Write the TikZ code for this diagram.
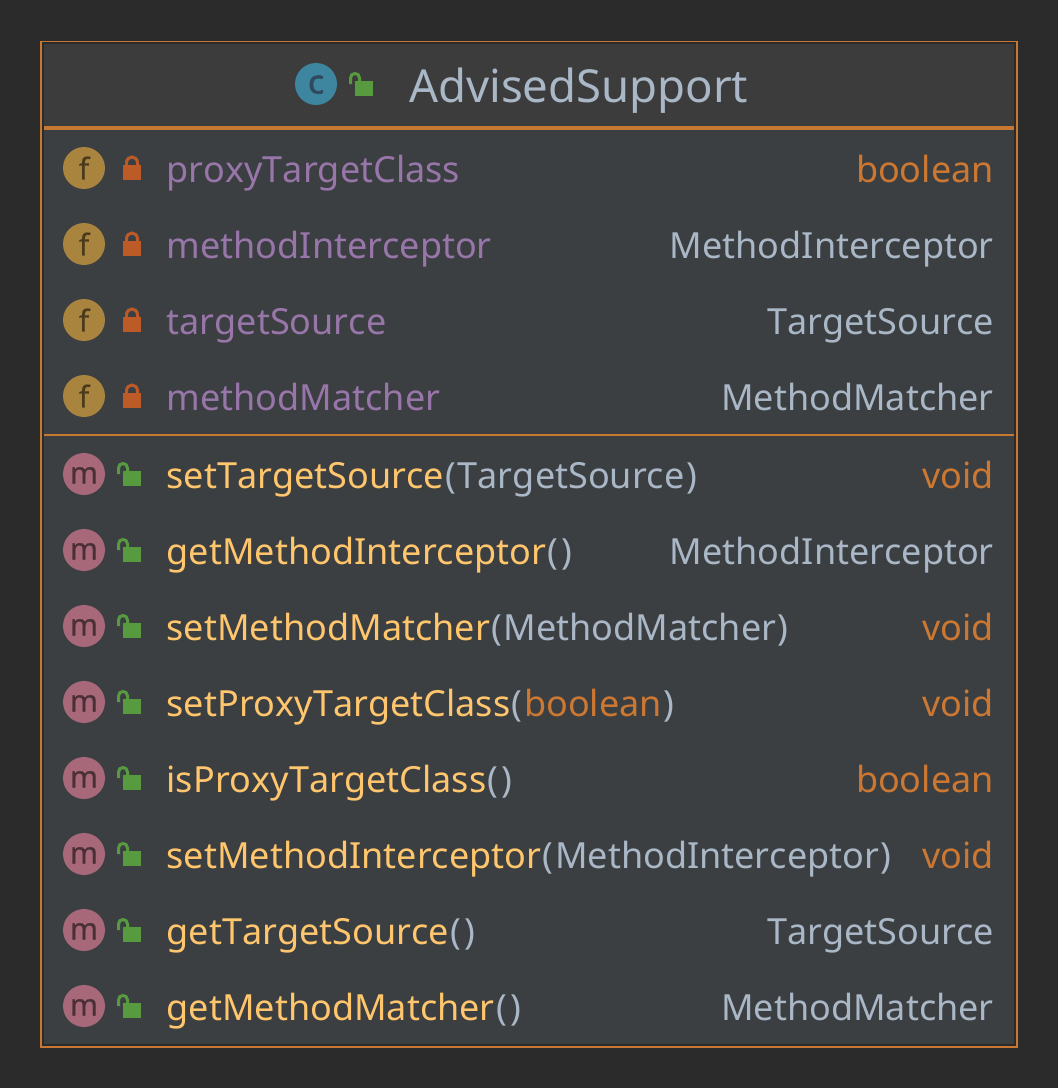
\documentclass[tikz,border=0pt]{standalone}
\usepackage{fontspec}
\setmainfont[Kerning=Off]{Noto Sans}
\newfontfamily\iconfont[FakeBold=0.6]{Noto Sans}
\newfontfamily\classfont[FakeBold=2]{Noto Sans}
\definecolor{pagebg}{HTML}{2B2B2B}
\definecolor{headbg}{HTML}{3C3C3C}
\definecolor{bodybg}{HTML}{3C3F41}
\definecolor{edgeorange}{HTML}{C77832}
\definecolor{typegray}{HTML}{A9B7C6}
\definecolor{fieldpurple}{HTML}{9876AA}
\definecolor{keyorange}{HTML}{CC7832}
\definecolor{methodyellow}{HTML}{FFC66D}
\definecolor{iconf}{HTML}{A8843F}
\definecolor{iconm}{HTML}{A7687A}
\definecolor{iconc}{HTML}{3E86A0}
\definecolor{classink}{HTML}{2F4A5C}
\definecolor{lockred}{HTML}{BD5B28}
\definecolor{lockgreen}{HTML}{589A40}
\tikzset{
    closedlock/.pic={
        \draw [lockred, line width=3pt] (-5.5,-3) -- (-5.5,-5) .. controls (-5.5,-13) and (5.5,-13) .. (5.5,-5) -- (5.5,-3);
        \fill [lockred] (-9,-3) rectangle (9,12);
    },
    openlock/.pic={
        \draw [lockgreen, line width=3pt] (-13.5,0) -- (-13.5,-6) .. controls (-13.5,-12) and (-4.5,-12) .. (-4.5,-6) -- (-4.5,-3);
        \fill [lockgreen] (-9,-3) rectangle (9,12);
    },
    icon/.style={circle, minimum size=42pt, inner sep=0pt, font=\fontsize{30}{30}\iconfont},
    fieldicon/.style={icon, fill=iconf, text=iconf!45!black},
    methodicon/.style={icon, fill=iconm, text=iconm!45!black, text height=19pt, text depth=0pt},
    classicon/.style={icon, fill=iconc, text=classink, text height=19pt, text depth=0pt, font=\fontsize{33}{33}\classfont},
    rowtext/.style={inner sep=0pt, font=\fontsize{36}{36}\selectfont},
    fieldname/.style={rowtext, anchor=base west, text=fieldpurple},
    methodname/.style={rowtext, anchor=base west, text=methodyellow},
    typename/.style={rowtext, anchor=base east, text=typegray},
    keyname/.style={rowtext, anchor=base east, text=keyorange},
}
\newcommand{\pargs}[1]{\textcolor{typegray}{\kern1.5pt(\kern1.5pt#1\kern1.5pt)\kern1pt}}
\newcommand{\pkey}[1]{\textcolor{keyorange}{#1}}
\begin{document}
\begin{tikzpicture}[x=1pt, y=-1pt]
            \useasboundingbox (0,0) rectangle (1058,1088);
            \fill [pagebg] (0,0) rectangle (1058,1088);
            \draw [edgeorange, line width=1.6pt] (41,41.5) rectangle (1017,1047);
            \fill [bodybg] (44,44) rectangle (1014,1044);
            \fill [headbg] (44,44) rectangle (1014,126);
            \fill [edgeorange] (44,126) rectangle (1014,130);
            \fill [edgeorange] (44,434) rectangle (1014,436);
            % header
            \node [classicon] (classC) at (316,84) {c};
            \pic (classLock) at (364,84) {openlock};
            \node [rowtext, anchor=base west, text=typegray, font=\fontsize{45.5}{45.5}\selectfont] (title) at (409,102) {AdvisedSupport};
            % fields
            \node [fieldicon] (f1) at (84,168) {f};
            \node [fieldicon] (f2) at (84,244) {f};
            \node [fieldicon] (f3) at (84,320) {f};
            \node [fieldicon] (f4) at (84,396) {f};
            \pic (fl1) at (132,168) {closedlock};
            \pic (fl2) at (132,244) {closedlock};
            \pic (fl3) at (132,320) {closedlock};
            \pic (fl4) at (132,396) {closedlock};
            \node [fieldname] (fn1) at (166.5,182.7) {proxyTargetClass};
            \node [fieldname] (fn2) at (166.5,258.7) {methodInterceptor};
            \node [fieldname] (fn3) at (166.5,334.7) {targetSource};
            \node [fieldname] (fn4) at (166.5,410.7) {methodMatcher};
            \node [keyname] (ft1) at (994,182.7) {boolean};
            \node [typename] (ft2) at (994,258.7) {MethodInterceptor};
            \node [typename] (ft3) at (994,334.7) {TargetSource};
            \node [typename] (ft4) at (994,410.7) {MethodMatcher};
            % methods
            \node [methodicon] (m1) at (84,474) {m};
            \node [methodicon] (m2) at (84,550) {m};
            \node [methodicon] (m3) at (84,626) {m};
            \node [methodicon] (m4) at (84,702) {m};
            \node [methodicon] (m5) at (84,778) {m};
            \node [methodicon] (m6) at (84,854) {m};
            \node [methodicon] (m7) at (84,930) {m};
            \node [methodicon] (m8) at (84,1006) {m};
            \pic (ml1) at (132,474) {openlock};
            \pic (ml2) at (132,550) {openlock};
            \pic (ml3) at (132,626) {openlock};
            \pic (ml4) at (132,702) {openlock};
            \pic (ml5) at (132,778) {openlock};
            \pic (ml6) at (132,854) {openlock};
            \pic (ml7) at (132,930) {openlock};
            \pic (ml8) at (132,1006) {openlock};
            \node [methodname] (mn1) at (166.5,488.7) {setTargetSource\pargs{TargetSource}};
            \node [methodname] (mn2) at (166.5,564.7) {getMethodInterceptor\pargs{}};
            \node [methodname] (mn3) at (166.5,640.7) {setMethodMatcher\pargs{MethodMatcher}};
            \node [methodname] (mn4) at (166.5,716.7) {setProxyTargetClass\pargs{\pkey{boolean}}};
            \node [methodname] (mn5) at (166.5,792.7) {isProxyTargetClass\pargs{}};
            \node [methodname] (mn6) at (166.5,868.7) {setMethodInterceptor\pargs{MethodInterceptor}};
            \node [methodname] (mn7) at (166.5,944.7) {getTargetSource\pargs{}};
            \node [methodname] (mn8) at (166.5,1020.7) {getMethodMatcher\pargs{}};
            \node [keyname] (mt1) at (994,488.7) {void};
            \node [typename] (mt2) at (994,564.7) {MethodInterceptor};
            \node [keyname] (mt3) at (994,640.7) {void};
            \node [keyname] (mt4) at (994,716.7) {void};
            \node [keyname] (mt5) at (994,792.7) {boolean};
            \node [keyname] (mt6) at (994,868.7) {void};
            \node [typename] (mt7) at (994,944.7) {TargetSource};
            \node [typename] (mt8) at (994,1020.7) {MethodMatcher};
        \end{tikzpicture}
\end{document}
